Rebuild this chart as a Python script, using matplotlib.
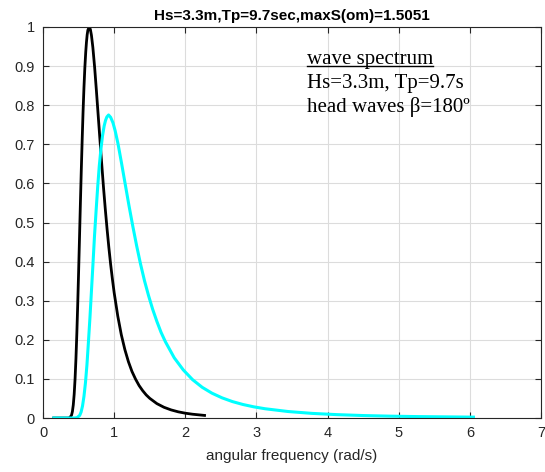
import numpy as np
import matplotlib
matplotlib.use('Agg')
import matplotlib.pyplot as plt

# wave spectrum (normalised)
om_wave = [0.15, 0.35, 0.375, 0.40, 0.4125, 0.425, 0.4375, 0.45, 0.4625, 0.475, 0.4875,
           0.50, 0.5125, 0.525, 0.5375, 0.55, 0.5625, 0.575, 0.5875, 0.60, 0.61,
           0.62, 0.63, 0.648, 0.665, 0.68, 0.70, 0.725, 0.75, 0.775, 0.80, 0.825,
           0.85, 0.875, 0.90, 0.925, 0.95, 0.975, 1.0, 1.05, 1.1, 1.15, 1.2, 1.25,
           1.3, 1.35, 1.4, 1.45, 1.5, 1.6, 1.7, 1.8, 1.9, 2.0, 2.1, 2.27]
S_wave = [0.0, 0.0, 0.0008, 0.007, 0.0165, 0.0335, 0.0607, 0.100, 0.1525, 0.217, 0.2925,
          0.375, 0.462, 0.550, 0.634, 0.712, 0.784, 0.845, 0.896, 0.936, 0.961,
          0.980, 0.992, 1.0, 0.994, 0.979, 0.948, 0.897, 0.837, 0.774, 0.711, 0.649,
          0.589, 0.534, 0.483, 0.436, 0.393, 0.355, 0.320, 0.261, 0.213, 0.175, 0.144, 0.119,
          0.0995, 0.083, 0.070, 0.059, 0.0503, 0.0368, 0.0274, 0.0207, 0.0158, 0.0123, 0.0097, 0.0066]

# encounter spectrum, head waves
om_enc = [0.15, 0.44, 0.476, 0.515, 0.535, 0.555, 0.575, 0.596, 0.617, 0.637, 0.659,
          0.68, 0.702, 0.723, 0.746, 0.768, 0.790, 0.813, 0.836, 0.859, 0.878,
          0.897, 0.921, 0.950, 0.983, 1.013, 1.053, 1.103, 1.155, 1.207, 1.261, 1.315,
          1.370, 1.426, 1.483, 1.541, 1.60, 1.659, 1.72, 1.844, 1.971, 2.102, 2.237, 2.375,
          2.517, 2.662, 2.811, 2.964, 3.12, 3.443, 3.781, 4.133, 4.499, 4.88, 5.275, 6.05]
S_enc = [0.0, 0.0, 0.0007, 0.0066, 0.0154, 0.031, 0.0554, 0.090, 0.136, 0.192, 0.256,
         0.324, 0.395, 0.465, 0.531, 0.591, 0.644, 0.687, 0.722, 0.747, 0.761,
         0.770, 0.775, 0.769, 0.755, 0.735, 0.702, 0.652, 0.598, 0.544, 0.491, 0.441,
         0.394, 0.351, 0.313, 0.278, 0.247, 0.219, 0.195, 0.154, 0.123, 0.098, 0.0785, 0.0634,
         0.0515, 0.042, 0.0345, 0.0285, 0.0237, 0.0166, 0.0118, 0.0086, 0.0063, 0.0047, 0.0036, 0.0022]

title = 'Hs=3.3m,Tp=9.7sec,maxS(om)=1.5051'
xticks = np.arange(0, 8, 1)
yticks = np.round(np.arange(0, 1.01, 0.1), 1)
ytick_labels = ['0', '0.1', '0.2', '0.3', '0.4', '0.5', '0.6', '0.7', '0.8', '0.9', '1']

plt.rcParams['font.family'] = ['Liberation Sans', 'DejaVu Sans']

fig = plt.figure(figsize=(5.45, 4.72), dpi=100)
ax = fig.add_axes([0.079, 0.1144, 0.9137, 0.8284])

ax.plot(om_wave, S_wave, color='black', lw=2)
ax.plot(om_enc, S_enc, color='cyan', lw=2.2)

ax.set_xlim(0, 7)
ax.set_ylim(0, 1)
ax.set_xticks(xticks)
ax.set_yticks(yticks)
ax.set_yticklabels(ytick_labels)
ax.grid(True, color='#dcdcdc', lw=0.8)
ax.set_axisbelow(True)
ax.tick_params(direction='in', top=True, right=True, labelsize=10.5,
               colors='#262626', length=4, pad=6)
for s in ax.spines.values():
    s.set_color('#262626')
    s.set_linewidth(0.8)

ax.set_title(title, fontsize=11, fontweight='bold', pad=5)
ax.set_xlabel('angular frequency (rad/s)', fontsize=11, color='#262626', labelpad=6)

# annotation in serif
serif = ['Liberation Serif', 'DejaVu Serif']
t1 = ax.text(3.71, 0.905, 'wave spectrum', family=serif, fontsize=15, va='baseline')
ax.text(3.71, 0.843, 'Hs=3.3m, Tp=9.7s', family=serif, fontsize=15, va='baseline')
ax.text(3.71, 0.783, 'head waves \u03b2=180\u00ba', family=serif, fontsize=15, va='baseline')

# underline under first line
fig.canvas.draw()
bb = t1.get_window_extent().transformed(ax.transData.inverted())
ax.plot([bb.x0, bb.x1], [0.9015, 0.9015], color='black', lw=1)

fig.savefig('out.png', dpi=100)
